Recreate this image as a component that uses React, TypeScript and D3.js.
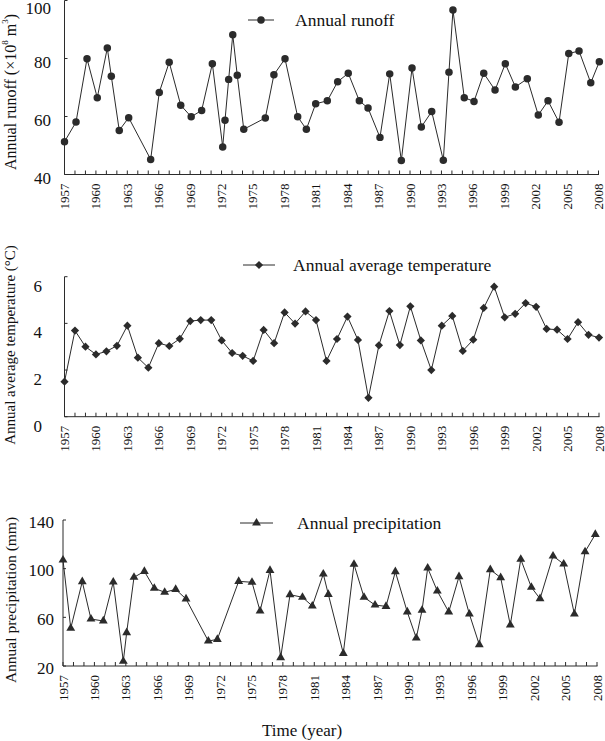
import React from "react";
import * as d3 from "d3";

// ---------- DATA ----------
const runoffYears = [1957, 1958.1, 1959.15, 1960.13, 1961.09, 1961.47, 1962.23, 1963.13, 1965.23, 1966.05, 1967.0, 1968.1, 1969.1, 1970.1, 1971.12, 1972.11, 1972.33, 1972.68, 1973.07, 1973.5, 1974.12, 1976.18, 1977.0, 1978.06, 1979.27, 1980.1, 1980.99, 1982.1, 1983.09, 1984.1, 1985.16, 1985.99, 1987.13, 1988.06, 1989.17, 1990.19, 1991.08, 1992.07, 1993.18, 1993.72, 1994.1, 1995.18, 1996.11, 1997.04, 1998.12, 1999.1, 2000.06, 2001.2, 2002.25, 2003.18, 2004.23, 2005.16, 2006.14, 2007.26, 2008.08];
const runoffValues = [51.3, 58.1, 79.9, 66.5, 83.6, 73.9, 55.2, 59.6, 45.2, 68.3, 78.7, 63.9, 59.9, 62.1, 78.2, 49.5, 58.7, 72.8, 88.2, 74.2, 55.6, 59.5, 74.4, 79.9, 59.9, 55.6, 64.4, 65.4, 72.0, 74.9, 65.4, 62.9, 52.8, 74.7, 44.8, 76.7, 56.4, 61.7, 44.9, 75.3, 96.7, 66.5, 65.2, 74.9, 69.1, 78.2, 70.2, 73.0, 60.5, 65.4, 58.0, 81.7, 82.6, 71.6, 78.9];

const tempYears = d3.range(1957, 2009);
const tempValues = [1.5, 3.69, 3.0, 2.67, 2.8, 3.04, 3.9, 2.53, 2.1, 3.15, 3.03, 3.34, 4.1, 4.14, 4.14, 3.27, 2.73, 2.61, 2.39, 3.72, 3.15, 4.47, 3.99, 4.51, 4.14, 2.39, 3.33, 4.29, 3.29, 0.81, 3.06, 4.53, 3.07, 4.73, 3.27, 2.0, 3.9, 4.32, 2.82, 3.3, 4.66, 5.57, 4.26, 4.41, 4.87, 4.71, 3.76, 3.73, 3.33, 4.05, 3.51, 3.39];

const precipYears = [1957, 1957.74, 1958.84, 1959.67, 1960.85, 1961.8, 1962.76, 1963.08, 1963.78, 1964.77, 1965.72, 1966.71, 1967.76, 1968.75, 1970.88, 1971.74, 1973.78, 1975.05, 1975.82, 1976.77, 1977.79, 1978.68, 1979.87, 1980.81, 1981.86, 1982.34, 1983.77, 1984.79, 1985.75, 1986.8, 1987.85, 1988.74, 1989.88, 1990.74, 1991.29, 1991.83, 1992.75, 1993.84, 1994.82, 1995.81, 1996.76, 1997.81, 1998.8, 1999.72, 2000.72, 2001.73, 2002.56, 2003.8, 2004.82, 2005.84, 2006.86, 2007.84];
const precipValues = [107.1, 51.0, 89.3, 58.6, 57.0, 89.0, 23.9, 47.4, 92.9, 97.8, 83.9, 80.6, 83.0, 75.1, 40.5, 41.9, 89.6, 88.8, 65.2, 98.6, 26.9, 78.6, 76.5, 69.3, 95.6, 78.9, 30.4, 103.6, 76.5, 70.1, 69.0, 97.5, 64.4, 43.0, 65.8, 100.5, 81.6, 64.4, 93.4, 62.7, 37.5, 99.2, 92.6, 53.7, 107.7, 84.7, 75.3, 110.4, 103.8, 62.7, 113.9, 128.2];

const yearTickLabels = d3.range(1957, 2009, 3);
const runoffTicks = [40, 60, 80, 100];
const tempTicks = [0, 2, 4, 6];
const precipTicks = [20, 60, 100, 140];

const FONT = "'Liberation Serif', 'Times New Roman', serif";
const INK = "#2b2b2b";

type PanelProps = {
  years: number[];
  values: number[];
  yDomain: [number, number];
  yRange: [number, number];
  xRange: [number, number];
  ticks: number[];
  tickLabelEnd: number;
  tickLabelDy: number;
  symbol: "circle" | "diamond" | "triangle";
  legendText: string;
  legendLine: [number, number, number];
  legendTextX: number;
  title: React.ReactNode;
  titleY: number;
  titleSize: number;
};

function Panel(p: PanelProps) {
  const x = d3.scaleLinear().domain([1957, 2008]).range(p.xRange);
  const y = d3.scaleLinear().domain(p.yDomain).range(p.yRange);
  const pts = p.years.map((yr, i) => [x(yr), y(p.values[i])] as [number, number]);
  const line = d3.line()(pts) || "";
  let symPath = "";
  let rot = 0;
  if (p.symbol === "circle") symPath = d3.symbol().type(d3.symbolCircle).size(44)() || "";
  if (p.symbol === "diamond") {
    symPath = d3.symbol().type(d3.symbolSquare).size(34)() || "";
    rot = 45;
  }
  if (p.symbol === "triangle") symPath = d3.symbol().type(d3.symbolTriangle).size(34)() || "";
  const y0 = p.yRange[0];
  const x0 = p.xRange[0];
  const years = d3.range(1957, 2009);
  const [lx1, lx2, ly] = p.legendLine;
  return (
    <g>
      {/* axes */}
      <line x1={x0} x2={x0} y1={p.yRange[1]} y2={y0} stroke={INK} strokeWidth={1} />
      <line x1={x0} x2={x(2008) + 0.5} y1={y0} y2={y0} stroke={INK} strokeWidth={1} />
      {years.map((yr) => (
        <line key={yr} x1={x(yr)} x2={x(yr)} y1={y0} y2={y0 - 4} stroke={INK} strokeWidth={1} />
      ))}
      {p.ticks.map((t) => (
        <g key={t}>
          <line x1={x0} x2={x0 + 3} y1={y(t)} y2={y(t)} stroke={INK} strokeWidth={1} />
          <text x={p.tickLabelEnd} y={Math.max(y(t) + p.tickLabelDy, 8)} textAnchor="end" dominantBaseline="central" fontSize={17} fontFamily={FONT} fill="#111">
            {t}
          </text>
        </g>
      ))}
      {yearTickLabels.map((yr) => (
        <text key={yr} transform={`translate(${x(yr)},${y0 + 9}) rotate(-90)`} textAnchor="end" dominantBaseline="central" fontSize={13} fontFamily={FONT} fill="#111">
          {yr}
        </text>
      ))}
      {/* series */}
      <path d={line} fill="none" stroke={INK} strokeWidth={1} />
      {pts.map(([px, py], i) => (
        <path key={i} d={symPath} transform={`translate(${px},${py}) rotate(${rot})`} fill={INK} />
      ))}
      {/* legend */}
      <line x1={lx1} x2={lx2} y1={ly} y2={ly} stroke={INK} strokeWidth={1} />
      <path d={symPath} transform={`translate(${(lx1 + lx2) / 2},${ly}) rotate(${rot})`} fill={INK} />
      <text x={p.legendTextX} y={ly} dominantBaseline="central" fontSize={17.5} fontFamily={FONT} fill="#111">
        {p.legendText}
      </text>
      {/* y title */}
      <text transform={`translate(10,${p.titleY}) rotate(-90)`} textAnchor="middle" dominantBaseline="central" fontSize={p.titleSize} fontFamily={FONT} fill="#111">
        {p.title}
      </text>
    </g>
  );
}

export default function App() {
  return (
    <svg width={605} height={741} style={{ position: "absolute", left: 0, top: 0, background: "#fff" }}>
      <Panel
        years={runoffYears}
        values={runoffValues}
        yDomain={[40, 100]}
        yRange={[174.5, 0.5]}
        xRange={[64.5, 598.5]}
        ticks={runoffTicks}
        tickLabelEnd={51}
        tickLabelDy={4}
        symbol="circle"
        legendText="Annual runoff"
        legendLine={[248, 274, 20]}
        legendTextX={295}
        title={
          <>
            Annual runoff (×10<tspan baselineShift="super" fontSize={9}>8</tspan> m<tspan baselineShift="super" fontSize={9}>3</tspan>)
          </>
        }
        titleY={92}
        titleSize={16}
      />
      <Panel
        years={tempYears}
        values={tempValues}
        yDomain={[0, 6]}
        yRange={[416.7, 276.7]}
        xRange={[64.5, 599]}
        ticks={tempTicks}
        tickLabelEnd={42}
        tickLabelDy={9.5}
        symbol="diamond"
        legendText="Annual average temperature"
        legendLine={[243, 275, 265]}
        legendTextX={293}
        title="Annual average temperature (°C)"
        titleY={345}
        titleSize={15}
      />
      <Panel
        years={precipYears}
        values={precipValues}
        yDomain={[20, 140]}
        yRange={[666, 520]}
        xRange={[63, 597]}
        ticks={precipTicks}
        tickLabelEnd={54}
        tickLabelDy={2}
        symbol="triangle"
        legendText="Annual precipitation"
        legendLine={[240, 273, 523]}
        legendTextX={297}
        title="Annual precipitation (mm)"
        titleY={600}
        titleSize={15.5}
      />
      <text x={302} y={730} textAnchor="middle" dominantBaseline="central" fontSize={17} fontFamily={FONT} fill="#111">
        Time (year)
      </text>
    </svg>
  );
}
